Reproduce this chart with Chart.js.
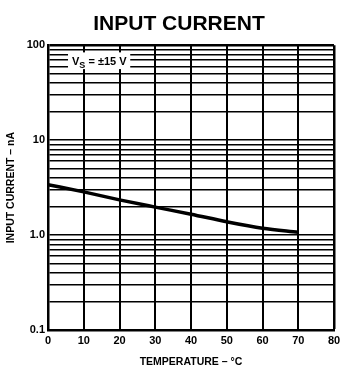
<!DOCTYPE html>
<html>
<head>
<meta charset="utf-8">
<script src="https://cdn.jsdelivr.net/npm/chart.js@4.4.1/dist/chart.umd.min.js"></script>
<style>
    html, body { margin: 0; padding: 0; background: #fff; }
    #wrap { width: 344px; height: 381px; }
</style>
</head>
<body>
<div id="wrap"><canvas id="chart"></canvas></div>
<script>
// Input current vs. temperature
const temperatures = [0, 10, 20, 30, 40, 50, 60, 70];
const inputCurrent = [3.4, 2.85, 2.35, 1.97, 1.66, 1.38, 1.18, 1.07];

// Axis ticks
const xTicks = [0, 10, 20, 30, 40, 50, 60, 70, 80];
const yDecades = [0.1, 1, 10];
const ySteps = [1, 2, 3, 4, 5, 6, 7, 8, 9];
const yLabelValues = [0.1, 1, 10, 100];
const yLabelText = ['0.1', '1.0', '10', '100'];

// Note text
const noteMain = 'V';
const noteSub = 'S';
const noteRest = ' = \u00b115 V';

const FONT = "'Liberation Sans', Arial, sans-serif";

// Build the log grid: 1..9 in every decade, plus the top 100
const yGrid = [];
for (const d of yDecades) {
    for (const s of ySteps) {
        yGrid.push(d * s);
    }
}
yGrid.push(100);

const yLabelFor = function(value) {
    const i = yLabelValues.findIndex(v => Math.abs(v - value) < v * 1e-6);
    return i === -1 ? '' : yLabelText[i];
};

// Draws the supply voltage note over a whitened patch of the grid
const supplyNote = {
    id: 'supplyNote',
    afterDatasetsDraw: function(chart) {
        const { ctx, scales } = chart;
        const left = scales.x.getPixelForValue(5.6);
        const right = scales.x.getPixelForValue(23);
        const top = scales.y.getPixelForValue(84);
        const bottom = scales.y.getPixelForValue(56);
        const mid = scales.y.getPixelForValue(66);

        ctx.save();
        ctx.fillStyle = '#fff';
        ctx.fillRect(left, top, right - left, bottom - top);

        ctx.fillStyle = '#000';
        ctx.textBaseline = 'middle';
        ctx.font = `bold 11px ${FONT}`;
        let x = left + 4;
        ctx.fillText(noteMain, x, mid);
        x += ctx.measureText(noteMain).width;
        ctx.font = `bold 9px ${FONT}`;
        ctx.fillText(noteSub, x, mid + 3);
        x += ctx.measureText(noteSub).width;
        ctx.font = `bold 11px ${FONT}`;
        ctx.fillText(noteRest, x, mid);
        ctx.restore();
    }
};

new Chart(document.getElementById('chart'), {
    type: 'line',
    data: {
        datasets: [
            {
                data: temperatures.map((t, i) => ({ x: t, y: inputCurrent[i] })),
                borderColor: '#000',
                borderWidth: 3.5,
                pointRadius: 0,
                cubicInterpolationMode: 'monotone',
                fill: false
            }
        ]
    },
    options: {
        responsive: true,
        maintainAspectRatio: false,
        animation: false,
        events: [],
        layout: {
            // left padding shifts the title centre to the right, like the original
            padding: { left: 14, right: 0, top: 0, bottom: 0 }
        },
        plugins: {
            legend: { display: false },
            tooltip: { enabled: false },
            title: {
                display: true,
                text: 'INPUT CURRENT',
                color: '#000',
                font: { family: FONT, size: 21, weight: 'bold' },
                padding: { top: 12, bottom: 8 }
            }
        },
        scales: {
            x: {
                type: 'linear',
                min: 0,
                max: 80,
                afterBuildTicks: function(scale) {
                    scale.ticks = xTicks.map(v => ({ value: v }));
                },
                afterFit: function(scale) {
                    scale.height = 51;
                    scale.paddingLeft = 0;
                    scale.paddingRight = 10;
                },
                ticks: {
                    color: '#000',
                    font: { family: FONT, size: 11, weight: 'bold' },
                    padding: 4,
                    maxRotation: 0,
                    autoSkip: false
                },
                grid: {
                    color: '#000',
                    lineWidth: ctx => (ctx.tick && ctx.tick.value === 80 ? 2.5 : 2),
                    drawTicks: false
                },
                border: { color: '#000', width: 2.5 },
                title: {
                    display: true,
                    text: 'TEMPERATURE \u2013 \u00b0C',
                    color: '#000',
                    font: { family: FONT, size: 10.5, weight: 'bold' },
                    padding: { top: 0, bottom: 13 }
                }
            },
            y: {
                type: 'logarithmic',
                min: 0.1,
                max: 100,
                afterBuildTicks: function(scale) {
                    scale.ticks = yGrid.map(v => ({ value: v }));
                },
                afterFit: function(scale) {
                    scale.width = 34;
                },
                ticks: {
                    color: '#000',
                    font: { family: FONT, size: 11, weight: 'bold' },
                    padding: 3,
                    autoSkip: false,
                    callback: value => yLabelFor(value)
                },
                grid: {
                    color: '#000',
                    lineWidth: ctx => (ctx.tick && ctx.tick.value === 100 ? 2.5 : 1.5),
                    drawTicks: false
                },
                border: { color: '#000', width: 2.5 },
                title: {
                    display: true,
                    text: 'INPUT CURRENT \u2013 nA',
                    color: '#000',
                    font: { family: FONT, size: 10.5, weight: 'bold' },
                    padding: { top: -9, bottom: 0 }
                }
            }
        }
    },
    plugins: [supplyNote]
});
</script>
</body>
</html>
